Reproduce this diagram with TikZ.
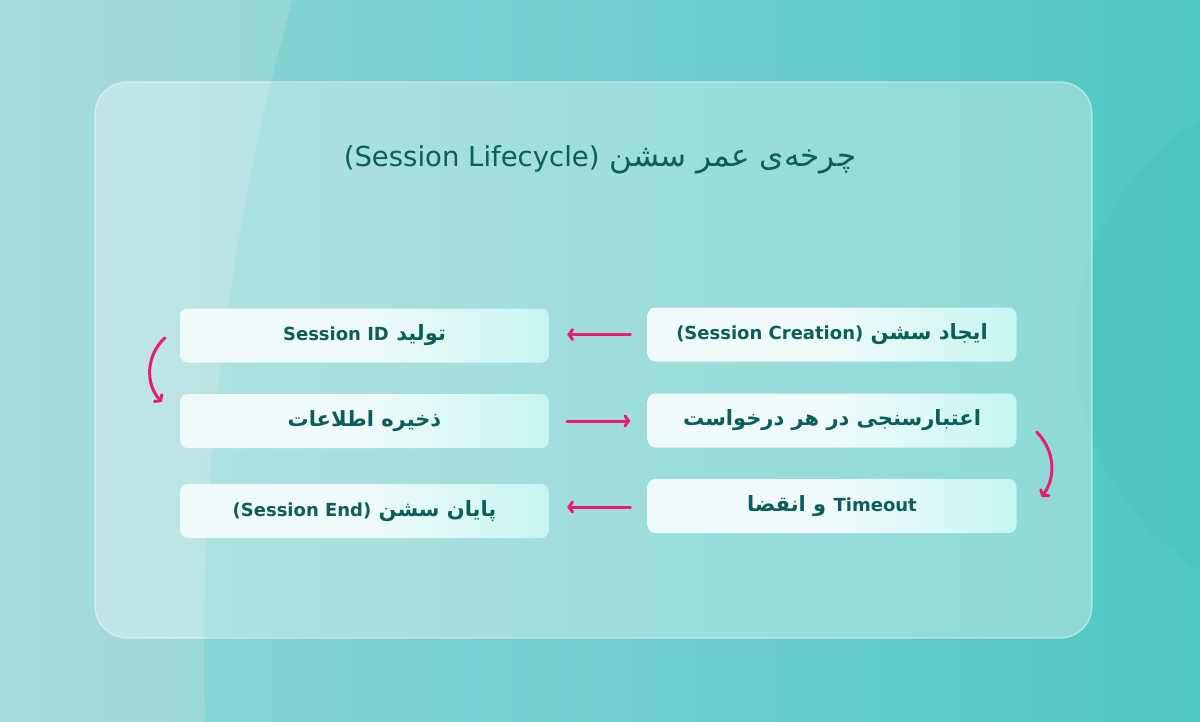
\documentclass[tikz,border=0pt]{standalone}
\usepackage{fontspec}
\setmainfont{DejaVu Sans}
\newfontfamily\farsi[Script=Arabic]{DejaVu Sans}
\TeXXeTstate=1
\usepackage{tikz}
\usetikzlibrary{arrows.meta,positioning}
\definecolor{bgleft}{HTML}{A9DCDD}
\definecolor{bgright}{HTML}{58CAC5}
\definecolor{bgring}{HTML}{30C0BC}
\definecolor{inkteal}{HTML}{0B5E5A}
\definecolor{arrowpink}{HTML}{EC1C6C}
\definecolor{boxleft}{HTML}{F0FAFB}
\definecolor{boxright}{HTML}{C6F6F0}
\newcommand\enpart[2]{\beginL{\fontsize{#1}{#1}\selectfont #2}\endL}

\begin{document}
\begin{tikzpicture}[x=1pt,y=-1pt,
  stage/.style={rounded corners=8pt,minimum width=369pt,minimum height=54pt,inner sep=0pt,
    left color=boxleft,right color=boxright,middle color=boxleft,
    text=inkteal,font=\farsi\bfseries\fontsize{21}{24}\selectfont},
  flow/.style={arrowpink,line width=3pt,line cap=round,
    -{Straight Barb[length=3.5pt,width=10pt,line cap=round]}}]
\useasboundingbox (0,0) rectangle (1200,721);
\fill[left color=bgleft,right color=bgright] (0,0) rectangle (1200,721);
\begin{scope}
\clip (0,0) rectangle (1200,721);
\fill[bgring,fill opacity=0.2] (2622,650) circle[radius=2418pt];
\fill[teal,fill opacity=0.04] (1340,345) circle[radius=265pt];
\end{scope}
\draw[white,draw opacity=0.5,fill=white,fill opacity=0.33,line width=1.2pt,rounded corners=32pt] (95,82) rectangle (1092,638);

\node[text=inkteal,font=\farsi\fontsize{31}{34}\selectfont] (title) at (600,160)
  {\beginR چرخه‌ی عمر سشن \enpart{27.5}{(Session Lifecycle)}\endR};

\node[stage] (create) at (832,334.5) {\beginR ایجاد سشن \enpart{18}{(Session Creation)}\endR};
\node[stage] (check) at (832,420.5) {\beginR اعتبارسنجی در هر درخواست\endR};
\node[stage] (expire) at (832,506) {\beginR\enpart{18}{Timeout} و انقضا\endR};
\node[stage] (genid) at (364.5,335.5) {\beginR تولید \enpart{18}{Session ID}\endR};
\node[stage] (store) at (364.5,421) {\beginR ذخیره اطلاعات\endR};
\node[stage] (finish) at (364.5,511) {\beginR پایان سشن \enpart{18}{(Session End)}\endR};

\draw[flow,shorten <=17pt,shorten >=18pt] (create.west) -- (create.west -| genid.east);
\draw[flow,shorten <=18pt,shorten >=17pt] (store.east) -- (store.east -| check.west);
\draw[flow,shorten <=17pt,shorten >=18pt] ([yshift=-1pt]expire.west) -- ([yshift=-1pt]expire.west -| finish.east);
\draw[flow] ([xshift=-15pt,yshift=-2.5pt]genid.west) to[bend right=45] ([xshift=-18pt,yshift=19pt]store.west);
\draw[flow] ([xshift=20pt,yshift=-11.5pt]check.east) to[bend left=40] ([xshift=25pt,yshift=9pt]expire.east);
\end{tikzpicture}
\end{document}
